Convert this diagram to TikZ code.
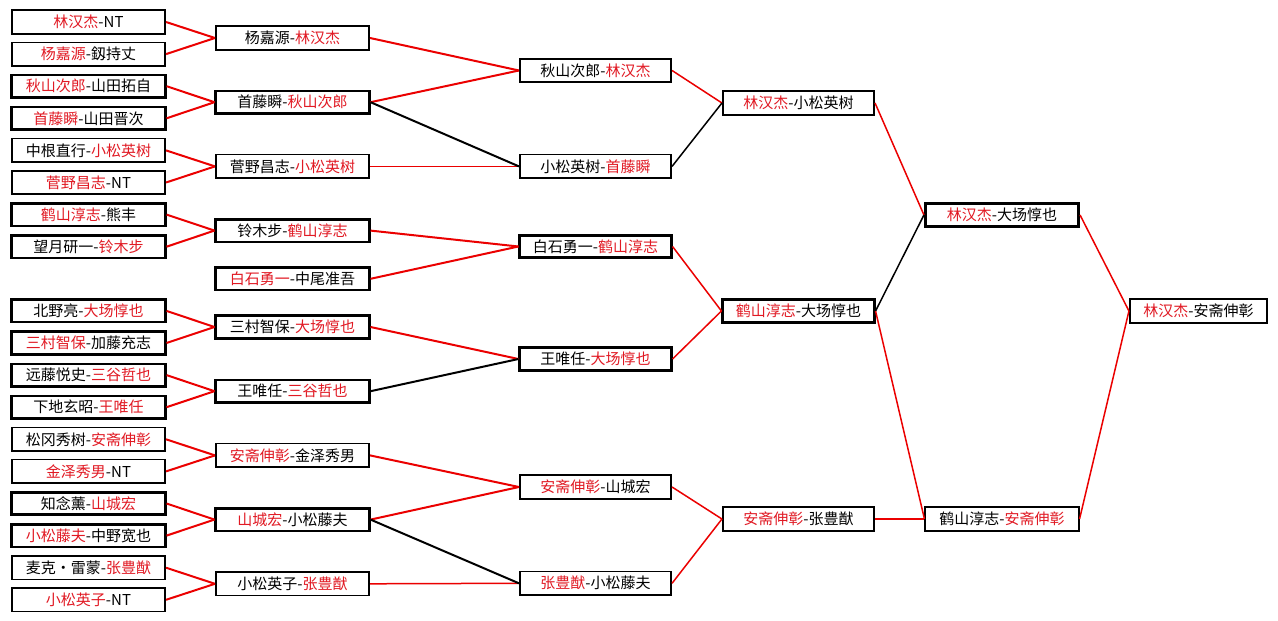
\documentclass[tikz,border=0pt]{standalone}
\usepackage{fontspec}
\setmainfont{Noto Sans CJK SC}
\definecolor{wred}{RGB}{225,25,35}
\definecolor{lred}{RGB}{235,0,0}
\newcommand\rd[1]{\textcolor{wred}{#1}}
\begin{document}
\begin{tikzpicture}[x=1pt,y=-1pt,
  bx/.style={draw=black, fill=white, line width=1.6pt, minimum height=23.5pt, inner sep=0pt, font=\fontsize{15}{16}\selectfont},
  bxt/.style={bx, line width=2.6pt, minimum height=22.5pt},
  wa/.style={minimum width=153.5pt},
  wb/.style={minimum width=151.5pt},
  wc/.style={minimum width=137.5pt},
  rl/.style={draw=lred, line width=2pt},
  bl/.style={draw=black, line width=2pt},
  rs/.style={draw=lred, line width=1.5pt},
  bs/.style={draw=black, line width=1.5pt}]
\useasboundingbox[fill=white] (0,0) rectangle (1278,621);
% column 1
\node[bx, wa]  (a0)  at (88.5,22)    {\rd{林汉杰}-NT};
\node[bx, wa]  (a1)  at (88.5,54.1)  {\rd{杨嘉源}-釼持丈};
\node[bxt, wa] (a2)  at (88.5,86.2)  {\rd{秋山次郎}-山田拓自};
\node[bxt, wa] (a3)  at (88.5,118.3) {\rd{首藤瞬}-山田晋次};
\node[bx, wa]  (a4)  at (88.5,150.4) {中根直行-\rd{小松英树}};
\node[bx, wa]  (a5)  at (88.5,182.5) {\rd{菅野昌志}-NT};
\node[bxt, wa] (a6)  at (88.5,214.6) {\rd{鹤山淳志}-熊丰};
\node[bxt, wa] (a7)  at (88.5,246.7) {望月研一-\rd{铃木步}};
\node[bxt, wa] (a9)  at (88.5,310.9) {北野亮-\rd{大场惇也}};
\node[bxt, wa] (a10) at (88.5,343)   {\rd{三村智保}-加藤充志};
\node[bxt, wa] (a11) at (88.5,375.1) {远藤悦史-\rd{三谷哲也}};
\node[bxt, wa] (a12) at (88.5,407.2) {下地玄昭-\rd{王唯任}};
\node[bx, wa]  (a13) at (88.5,439.3) {松冈秀树-\rd{安斋伸彰}};
\node[bx, wa]  (a14) at (88.5,471.4) {\rd{金泽秀男}-NT};
\node[bxt, wa] (a15) at (88.5,503.5) {知念薰-\rd{山城宏}};
\node[bxt, wa] (a16) at (88.5,535.6) {\rd{小松藤夫}-中野宽也};
\node[bx, wa]  (a17) at (88.5,567.7) {麦克・雷蒙-\rd{张豊猷}};
\node[bx, wa]  (a18) at (88.5,599.8) {\rd{小松英子}-NT};
% column 2
\node[bx, wa]  (b0) at (292.5,38)    {杨嘉源-\rd{林汉杰}};
\node[bxt, wa] (b1) at (292.5,102.2) {首藤瞬-\rd{秋山次郎}};
\node[bx, wa]  (b2) at (292.5,166.4) {菅野昌志-\rd{小松英树}};
\node[bxt, wa] (b3) at (292.5,230.6) {铃木步-\rd{鹤山淳志}};
\node[bxt, wa] (b4) at (292.5,278.8) {\rd{白石勇一}-中尾准吾};
\node[bxt, wa] (b5) at (292.5,327)   {三村智保-\rd{大场惇也}};
\node[bxt, wa] (b6) at (292.5,391.2) {王唯任-\rd{三谷哲也}};
\node[bx, wa]  (b7) at (292.5,455.4) {\rd{安斋伸彰}-金泽秀男};
\node[bxt, wa] (b8) at (292.5,519.6) {\rd{山城宏}-小松藤夫};
\node[bx, wa]  (b9) at (292.5,583.8) {小松英子-\rd{张豊猷}};
% column 3
\node[bx, wb]  (c0) at (595.5,70.5)  {秋山次郎-\rd{林汉杰}};
\node[bx, wb]  (c1) at (595.5,166.4) {小松英树-\rd{首藤瞬}};
\node[bxt, wb] (c2) at (595.5,246.5) {白石勇一-\rd{鹤山淳志}};
\node[bxt, wb] (c3) at (595.5,359)   {王唯任-\rd{大场惇也}};
\node[bx, wb]  (c4) at (595.5,487)   {\rd{安斋伸彰}-山城宏};
\node[bx, wb]  (c5) at (595.5,583.3) {\rd{张豊猷}-小松藤夫};
% column 4
\node[bx, wb]  (d0) at (798.5,103)   {\rd{林汉杰}-小松英树};
\node[bxt, wb] (d1) at (798.5,311)   {\rd{鹤山淳志}-大场惇也};
\node[bx, wb]  (d2) at (798.5,519)   {\rd{安斋伸彰}-张豊猷};
% column 5
\node[bxt, wa] (e0) at (1002,215)    {\rd{林汉杰}-大场惇也};
\node[bx, wa]  (e1) at (1002,519)    {鹤山淳志-\rd{安斋伸彰}};
% column 6
\node[bx, wc]  (f0) at (1198.5,311)  {\rd{林汉杰}-安斋伸彰};
% connectors column 1 -> 2
\foreach \s/\t in {a0/b0,a1/b0,a2/b1,a3/b1,a4/b2,a5/b2,a6/b3,a7/b3,a9/b5,a10/b5,a11/b6,a12/b6,a13/b7,a14/b7,a15/b8,a16/b8,a17/b9,a18/b9}
  \draw[rl] (\s.east) -- (\t.west);
% column 2 -> 3
\foreach \s/\t in {b0/c0,b1/c0,b3/c2,b4/c2,b5/c3,b7/c4,b8/c4}
  \draw[rl] (\s.east) -- (\t.west);
\foreach \s/\t in {b2/c1,b9/c5}
  \draw[rs] (\s.east) -- (\t.west);
\foreach \s/\t in {b1/c1,b6/c3,b8/c5}
  \draw[bl] (\s.east) -- (\t.west);
% column 3 -> 4 and beyond
\foreach \s/\t in {c0/d0,c2/d1,c3/d1,c4/d2,c5/d2,d0/e0,d1/e1,d2/e1,e0/f0,e1/f0}
  \draw[rs] (\s.east) -- (\t.west);
\foreach \s/\t in {c1/d0,d1/e0}
  \draw[bs] (\s.east) -- (\t.west);
\end{tikzpicture}
\end{document}
